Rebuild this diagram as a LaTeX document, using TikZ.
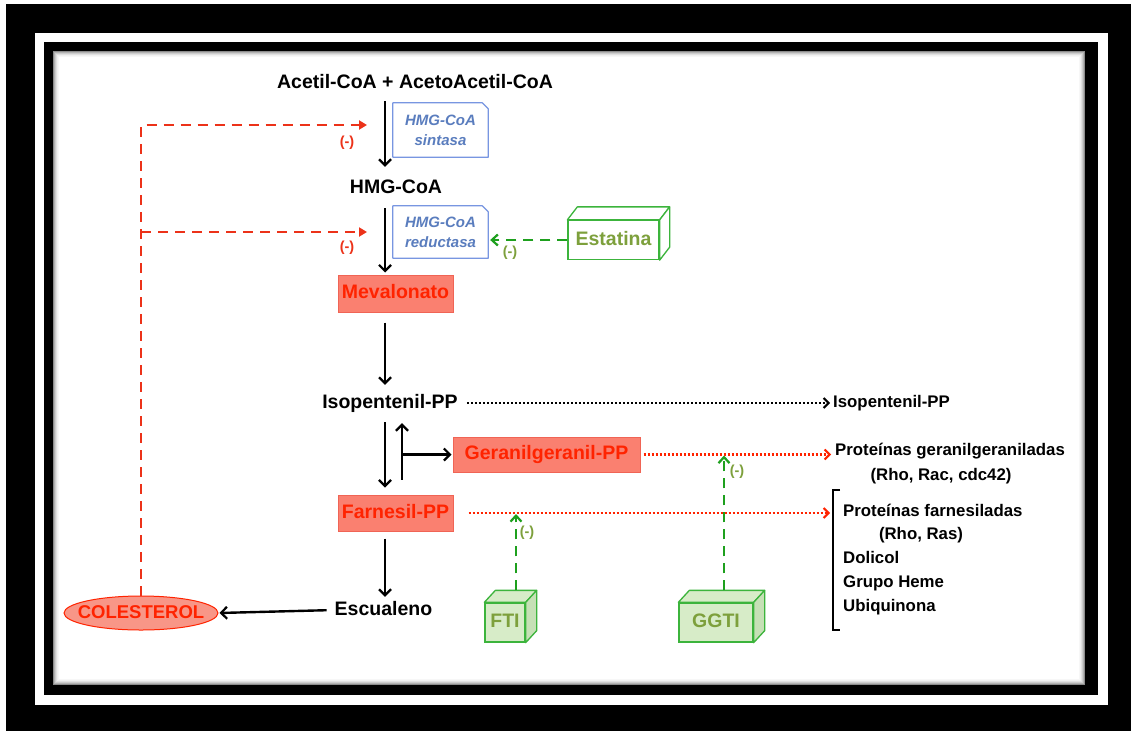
\documentclass[tikz,border=0pt]{standalone}
\usepackage{fontspec}
\setmainfont{Liberation Sans}
\usetikzlibrary{arrows.meta,shapes.geometric,calc}
\definecolor{salmon}{RGB}{250,128,112}
\definecolor{salmonbd}{RGB}{240,100,85}
\definecolor{redtxt}{RGB}{255,35,0}
\definecolor{reddash}{RGB}{236,50,25}
\definecolor{bluebd}{RGB}{120,150,225}
\definecolor{bluetxt}{RGB}{90,125,190}
\definecolor{greenbd}{RGB}{60,180,60}
\definecolor{greendash}{RGB}{30,160,30}
\definecolor{olive}{RGB}{125,160,60}
\definecolor{lgreen}{RGB}{215,236,200}
\definecolor{lgreen2}{RGB}{198,224,182}
\definecolor{ellfill}{RGB}{248,150,135}
\tikzset{
  lbl/.style={font=\bfseries\fontsize{19.5}{22}\selectfont, inner sep=0pt, text height=14pt, text depth=4pt},
  rlbl/.style={font=\bfseries\fontsize{16.8}{19}\selectfont, inner sep=0pt, text height=12pt, text depth=3.5pt},
  rbox/.style={lbl, draw=salmonbd, fill=salmon, text=redtxt, line width=1pt},
  enzfont/.style={font=\bfseries\itshape\fontsize{15}{20}\selectfont, text=bluetxt, align=center, inner sep=0pt},
  front/.style={lbl, draw=greenbd, line width=1.3pt, text=olive},
  face/.style={draw=greenbd, line width=1.3pt, line join=round},
  blk/.style={line width=2.4pt, -{Straight Barb[length=6pt,width=12pt,line width=2.2pt]}},
  rdash/.style={draw=reddash, line width=2.6pt, dash pattern=on 10pt off 7pt, -{Triangle[length=8pt,width=9pt]}},
  gdash/.style={draw=greendash, line width=2.6pt, dash pattern=on 10pt off 7pt, -{Straight Barb[length=6pt,width=11pt,line width=2.2pt]}},
  bdot/.style={line width=2.2pt, dash pattern=on 2pt off 2pt, -{Straight Barb[length=5pt,width=10pt,line width=2pt]}},
  rdot/.style={draw=redtxt, line width=2.2pt, dash pattern=on 2pt off 2pt, -{Straight Barb[length=5pt,width=10pt,line width=2pt]}},
  minus/.style={font=\bfseries\fontsize{14.5}{15}\selectfont, inner sep=0pt},
}
\begin{document}
\begin{tikzpicture}[x=1pt,y=-1pt]
\useasboundingbox (0,0) rectangle (1131,731);
% frame
\fill[white] (0,0) rectangle (1131,731);
\fill[black] (6,4) rectangle (1131,731);
\fill[white] (35,33) rectangle (1108,705);
\fill[black] (44,42) rectangle (1098,695);
\fill[white] (53,51) rectangle (1085,685);
\foreach \i/\g in {0.5/45,1.5/30,2.5/20,3.5/12,4.5/6,5.5/3}{
  \draw[black!\g, line width=1pt] (53+\i,51+\i) rectangle (1085-\i,685-\i);
}
% column coordinates
\coordinate (col) at (385,0);
\coordinate (up) at (402,0);
% nodes
\node[lbl] (acetil) at (415,83) {Acetil-CoA + AcetoAcetil-CoA};
\node[lbl] (hmg) at (396,188) {HMG-CoA};
\node[lbl] (isop) at (390,403) {Isopentenil-PP};
\node[lbl] (esc) at (383.5,610) {Escualeno};
\node[rbox, minimum width=115pt, minimum height=37pt] (mev) at (395.5,293.5) {Mevalonato};
\node[rbox, minimum width=187pt, minimum height=35pt] (gera) at (546.5,454.5) {Geranilgeranil-PP};
\node[rbox, minimum width=115pt, minimum height=36pt] (farn) at (395.5,513) {Farnesil-PP};
\node[ellipse, draw=redtxt, fill=ellfill, line width=1pt, minimum width=154pt, minimum height=34pt,
      inner xsep=-9pt, inner ysep=2pt, text height=13pt, text depth=3pt,
      font=\bfseries\fontsize{18.5}{20}\selectfont, text=redtxt] (col2) at (141,613) {COLESTEROL};
% enzyme note boxes
\node[enzfont, minimum width=95pt, minimum height=54pt] (sint) at (440.5,130) {HMG-CoA\\sintasa};
\node[enzfont, minimum width=95pt, minimum height=52pt] (red) at (440.5,232) {HMG-CoA\\reductasa};
\foreach \n in {sint,red}{
  \draw[bluebd, line width=1.2pt, line join=round] (\n.north west) -- ([xshift=-6pt]\n.north east) -- ([yshift=-6pt]\n.north east) -- (\n.south east) -- (\n.south west) -- cycle;
}
% cuboids
\node[front, fill=white, minimum width=91pt, minimum height=39pt] (est) at (613.5,240) {Estatina};
\draw[face, fill=white] (est.north west) -- ++(10,-13) -- ($(est.north east)+(10,-13)$) -- (est.north east) -- cycle;
\draw[face, fill=white] (est.north east) -- ++(10,-13) -- ($(est.south east)+(10,-13)$) -- (est.south east) -- cycle;
\node[front, fill=lgreen, minimum width=40pt, minimum height=39pt] (fti) at (505,622.5) {FTI};
\node[front, fill=lgreen, minimum width=74pt, minimum height=39pt] (ggti) at (716,622.5) {GGTI};
\foreach \n in {fti,ggti}{
  \draw[face, fill=lgreen] (\n.north west) -- ++(11,-12) -- ($(\n.north east)+(11,-12)$) -- (\n.north east) -- cycle;
  \draw[face, fill=lgreen2] (\n.north east) -- ++(11,-12) -- ($(\n.south east)+(11,-12)$) -- (\n.south east) -- cycle;
}
\coordinate (ftiT) at ($(fti.north)+(11,-12)$);
\coordinate (ggtiT) at ($(ggti.north)+(8,-12)$);
% right side texts
\node[rlbl, anchor=west] (isoR) at (833,403) {Isopentenil-PP};
\node[rlbl, anchor=west] (protG1) at (835,451) {Proteínas geranilgeraniladas};
\node[rlbl] (protG2) at (941,476) {(Rho, Rac, cdc42)};
\node[rlbl, anchor=west] (protF) at (843,512) {Proteínas farnesiladas};
\node[rlbl] (rhoras) at (921,535) {(Rho, Ras)};
\node[rlbl, anchor=west] (dol) at (843,559) {Dolicol};
\node[rlbl, anchor=west] (heme) at (843,583) {Grupo Heme};
\node[rlbl, anchor=west] (ubi) at (843,607) {Ubiquinona};
\coordinate (brtop) at (833,490);
\coordinate (brbot) at (833,630);
\draw[line width=2pt] ([xshift=7pt]brtop) -- (brtop) -- (brbot) -- ([xshift=7pt]brbot);
% black arrows
\draw[blk, shorten <=9pt, shorten >=12pt] (acetil.south -| col) -- (hmg.north -| col);
\draw[blk, shorten <=11pt, shorten >=2pt] (hmg.south -| col) -- (mev.north -| col);
\draw[blk, shorten <=10pt, shorten >=9pt] (mev.south -| col) -- (isop.north -| col);
\draw[blk, shorten <=10pt, shorten >=7pt] (isop.south -| col) -- (farn.north -| col);
\draw[blk, shorten <=15pt, shorten >=11pt] (farn.north -| up) -- (isop.south -| up);
\draw[blk, shorten >=1pt] (gera.west -| up) -- (gera.west);
\draw[blk, shorten <=7pt, shorten >=4pt] (farn.south -| col) -- (esc.north -| col);
\draw[blk, shorten <=8pt, shorten >=1pt] (esc.west) -- (col2.east);
% dotted arrows
\draw[bdot, shorten <=9pt, shorten >=3pt] (isop.east) -- (isoR.west);
\draw[rdot, shorten <=3pt, shorten >=4pt] (gera.east) -- (gera.east -| protG1.west);
\draw[rdot, shorten <=15pt, shorten >=3pt] (farn.east) -- (farn.east -| brtop);
% red dashed feedback
\coordinate (tgt1) at (367,125);
\coordinate (tgt2) at (367,232);
\draw[rdash] (col2.north) -- (col2.north |- tgt1) -- (tgt1);
\draw[rdash] (col2.north |- tgt2) -- (tgt2);
\node[minus, text=reddash] (m1) at (347,143) {(-)};
\node[minus, text=reddash] (m2) at (347,248) {(-)};
% green dashed inhibitors
\draw[gdash, shorten >=2pt] (est.west) -- (est.west -| red.east);
\draw[gdash, shorten >=1pt] (ftiT) -- (ftiT |- farn.east);
\draw[gdash, shorten >=1pt] (ggtiT) -- (ggtiT |- gera.east);
\node[minus, text=olive] (m3) at (510,253) {(-)};
\node[minus, text=olive] (m4) at (527,533) {(-)};
\node[minus, text=olive] (m5) at (737,472) {(-)};
\end{tikzpicture}
\end{document}
